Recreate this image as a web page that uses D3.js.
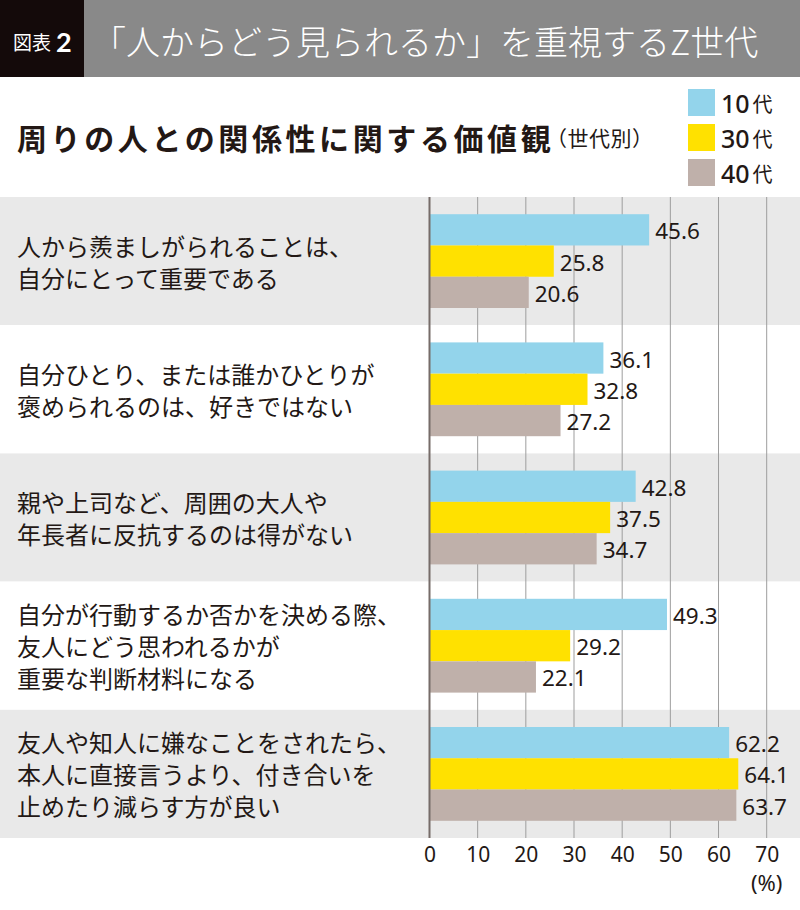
<!DOCTYPE html>
<html><head><meta charset="utf-8">
<script src="https://cdn.jsdelivr.net/npm/d3@7"></script>
<style>
html,body{margin:0;padding:0;background:#fff;}
svg{display:block;font-family:"Noto Sans CJK JP","Noto Sans",sans-serif;}
</style></head>
<body>
<script>
const categories = [
  ["人から羨ましがられることは、","自分にとって重要である"],
  ["自分ひとり、または誰かひとりが","褒められるのは、好きではない"],
  ["親や上司など、周囲の大人や","年長者に反抗するのは得がない"],
  ["自分が行動するか否かを決める際、","友人にどう思われるかが","重要な判断材料になる"],
  ["友人や知人に嫌なことをされたら、","本人に直接言うより、付き合いを","止めたり減らす方が良い"]
];
const seriesNames = ["10代","30代","40代"];
const seriesNums = ["10","30","40"];
const teens = [45.6, 36.1, 42.8, 49.3, 62.2];
const thirties = [25.8, 32.8, 37.5, 29.2, 64.1];
const forties = [20.6, 27.2, 34.7, 22.1, 63.7];
const xTicks = [0,10,20,30,40,50,60,70];
const headerLabel = "図表";
const headerNum = "2";
const headerTitle = "「人からどう見られるか」を重視するZ世代";
const chartTitle = "周りの人との関係性に関する価値観";
const chartSub = "（世代別）";
const unitLabel = "(%)";

const colors = ["#93d4eb","#ffe100","#bfb0aa"];
const series = [teens, thirties, forties];
const ink = "#231815";

const W = 800, H = 910;
const svg = d3.select("body").append("svg").attr("width", W).attr("height", H);

// header
svg.append("rect").attr("x",0).attr("y",0).attr("width",W).attr("height",77).attr("fill","#898989");
svg.append("rect").attr("x",0).attr("y",0).attr("width",84).attr("height",77).attr("fill","#140a0a");
const hl = svg.append("text").attr("x",13).attr("y",41).attr("dominant-baseline","central").attr("fill","#fff");
hl.append("tspan").attr("font-size",19).text(headerLabel);
hl.append("tspan").attr("dx",5).attr("font-size",27).attr("font-weight",700).attr("font-family","Lato, 'Noto Sans', sans-serif").text(headerNum);
svg.append("text").attr("x",92).attr("y",40).attr("dominant-baseline","central")
  .attr("fill","#fff").attr("font-size",34).attr("font-weight",300).attr("letter-spacing",0).text(headerTitle);

// chart title
svg.append("text").attr("x",17).attr("y",137).attr("dominant-baseline","central")
  .attr("fill",ink).attr("font-size",30).attr("font-weight",700).attr("letter-spacing",3.6).text(chartTitle);
svg.append("text").attr("x",546).attr("y",137).attr("dominant-baseline","central")
  .attr("fill",ink).attr("font-size",21).attr("letter-spacing",0.5).text(chartSub);

// legend
const lg = svg.append("g");
seriesNames.forEach((n,i)=>{
  const y0 = 89 + i*35;
  lg.append("rect").attr("x",688).attr("y",y0).attr("width",27).attr("height",27).attr("fill",colors[i]);
  const t = lg.append("text").attr("x",721).attr("y",y0+14).attr("dominant-baseline","central").attr("fill",ink);
  t.append("tspan").attr("font-size",25).attr("font-weight",500).attr("font-family","'Noto Sans', sans-serif").text(seriesNums[i]);
  t.append("tspan").attr("dx",3).attr("font-size",20).text("代");
});

// scales
const y = d3.scaleBand().domain(d3.range(categories.length)).range([197, 838]).paddingInner(0).paddingOuter(0);
const yInner = d3.scaleBand().domain(d3.range(series.length)).range([0, y.bandwidth()]).paddingInner(0).paddingOuter(0.55);
const x = d3.scaleLinear().domain([0,70]).range([429.5, 766.7]);

// bands
svg.append("g").selectAll("rect").data(categories).join("rect")
  .attr("x",0).attr("width",W)
  .attr("y",(d,i)=>y(i)).attr("height",y.bandwidth())
  .attr("fill",(d,i)=> i%2===0 ? "#e9e9e9" : "#ffffff");

// grid
svg.append("g").selectAll("line").data(xTicks.filter(t=>t>0)).join("line")
  .attr("x1",d=>x(d)).attr("x2",d=>x(d))
  .attr("y1",197).attr("y2",838)
  .attr("stroke","#9d9d9d").attr("stroke-width",1);

// category labels
const cl = svg.append("g");
categories.forEach((lines,i)=>{
  const cy = y(i) + y.bandwidth()/2;
  const lh = 32;
  lines.forEach((ln,j)=>{
    cl.append("text").attr("x",17).attr("y", cy + (j - (lines.length-1)/2)*lh)
      .attr("dominant-baseline","central").attr("fill",ink).attr("font-size",24).text(ln);
  });
});

// bars
const bars = svg.append("g");
series.forEach((vals,s)=>{
  bars.selectAll(null).data(vals).join("rect")
    .attr("x",x(0)).attr("y",(d,i)=>y(i)+yInner(s))
    .attr("width",d=>x(d)-x(0)).attr("height",yInner.bandwidth())
    .attr("fill",colors[s]);
  bars.selectAll(null).data(vals).join("text")
    .attr("x",d=>x(d)+6).attr("y",(d,i)=>y(i)+yInner(s)+yInner.bandwidth()/2+1)
    .attr("dominant-baseline","central").attr("fill",ink)
    .attr("font-size",22.5).attr("font-weight",400).attr("font-family","'Noto Sans', sans-serif")
    .text(d=>d.toFixed(1));
});

// zero line
svg.append("line").attr("x1",x(0)).attr("x2",x(0)).attr("y1",197).attr("y2",838)
  .attr("stroke","#766c69").attr("stroke-width",2);

// axis
const axis = d3.axisBottom(x).tickValues(xTicks).tickSize(0).tickPadding(0);
const ag = svg.append("g").attr("transform","translate(0,847)").call(axis);
ag.select(".domain").remove();
ag.selectAll("text").attr("font-size",21).attr("fill",ink).attr("font-family","'Noto Sans', sans-serif");
svg.append("text").attr("x",x(70)).attr("y",882).attr("text-anchor","middle").attr("dominant-baseline","central")
  .attr("font-size",22).attr("fill",ink).attr("font-family","'Noto Sans', sans-serif").text(unitLabel);
</script>
</body></html>
